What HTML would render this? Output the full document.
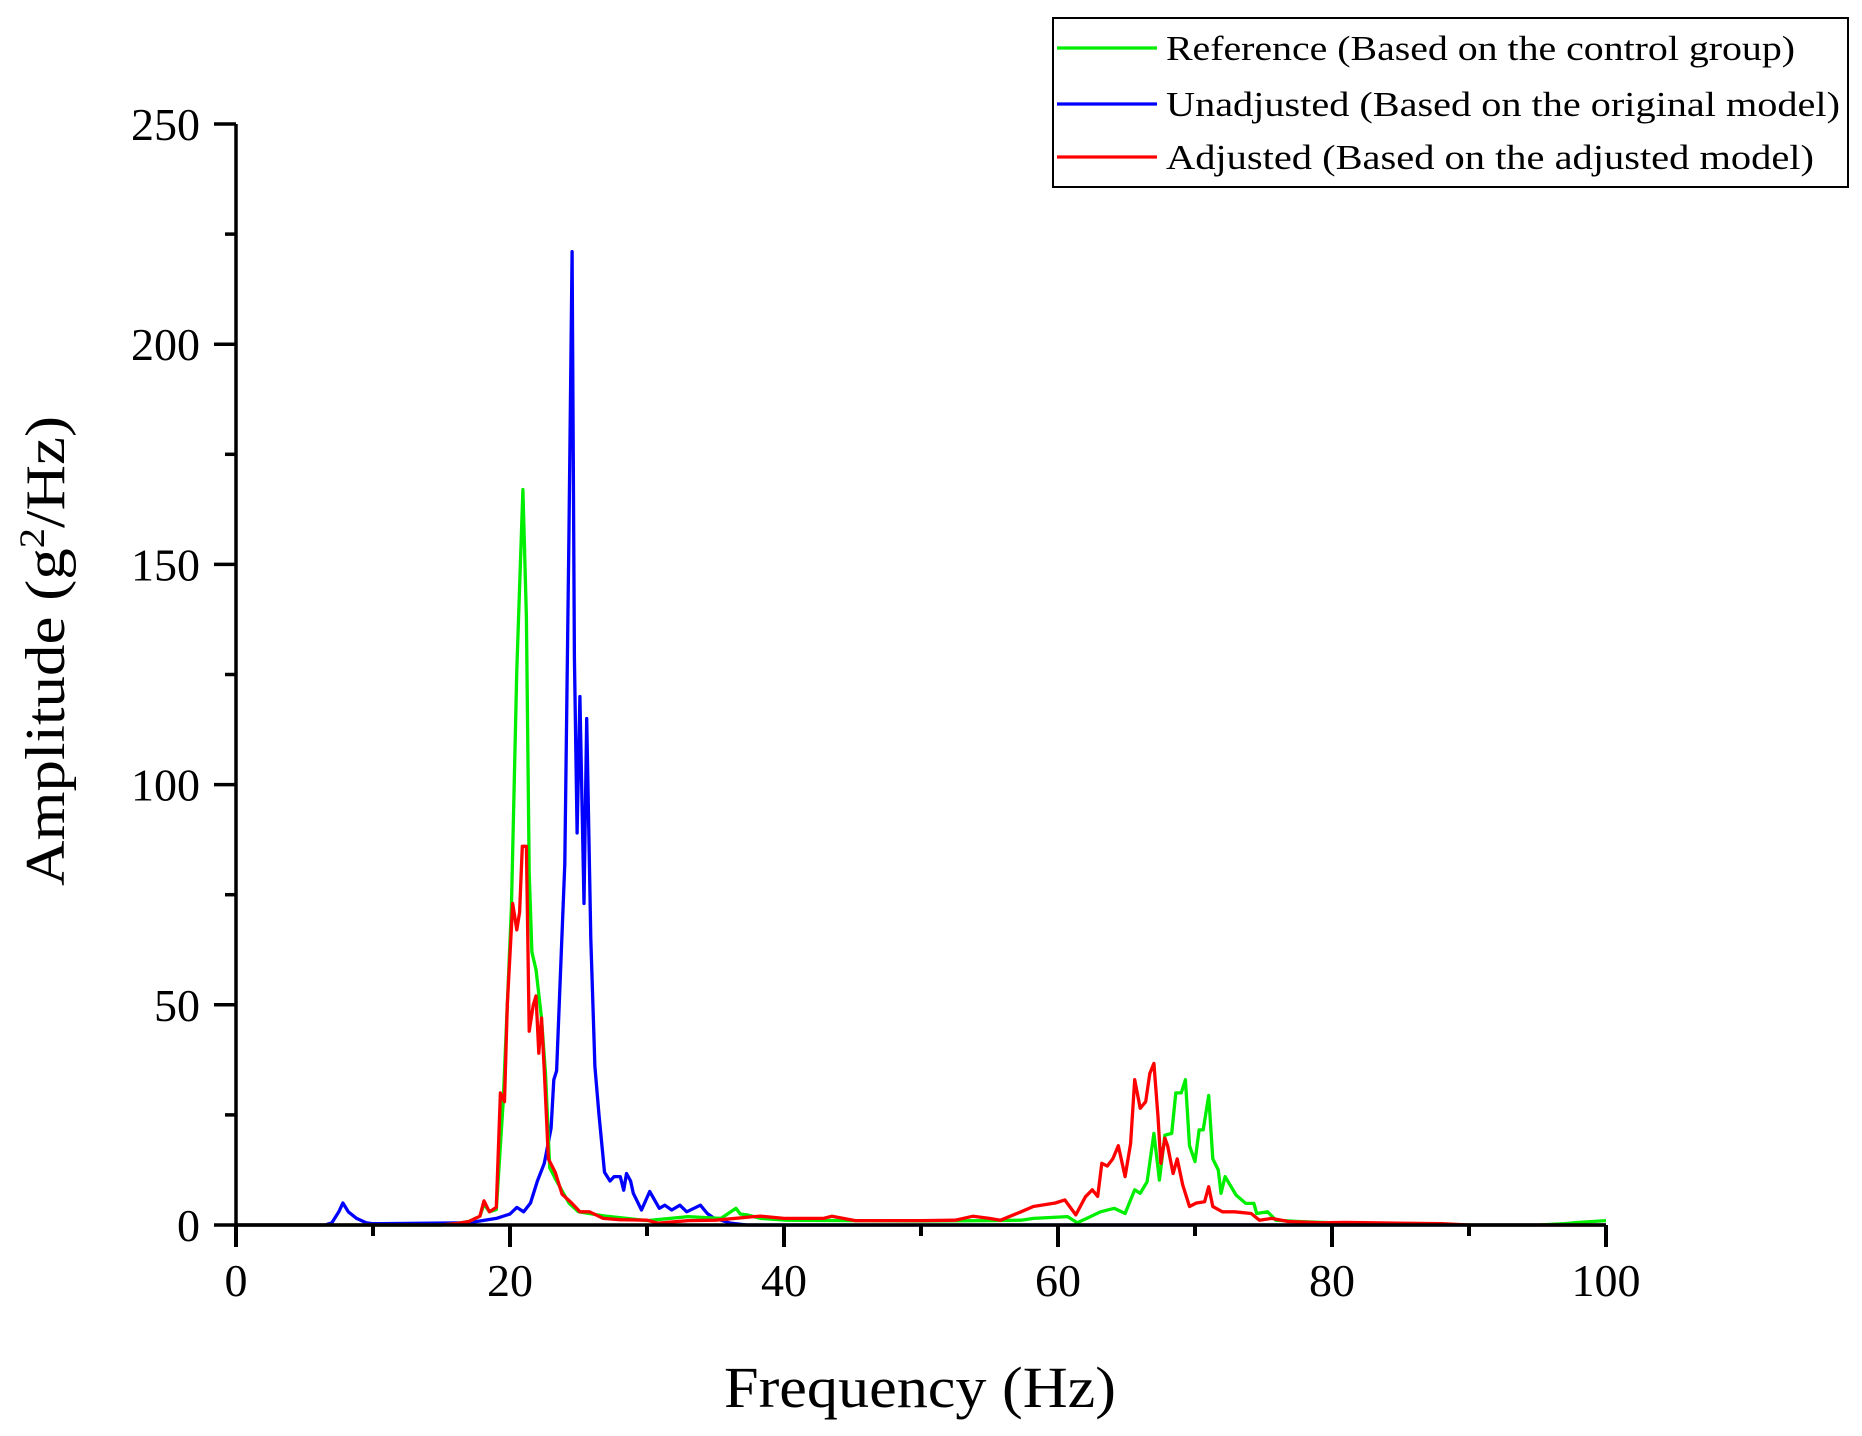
<!DOCTYPE html>
<html><head><meta charset="utf-8"><style>
html,body{margin:0;padding:0;background:#fff;}
svg{display:block;font-family:"Liberation Serif",serif;}
</style></head><body>
<svg id="chart" width="1862" height="1436" viewBox="0 0 1862 1436" xmlns="http://www.w3.org/2000/svg"></svg>
<script>
const xTicks = [0,20,40,60,80,100];
const xMinor = [10,30,50,70,90];
const yTicks = [0,50,100,150,200,250];
const yMinor = [25,75,125,175,225];
const seriesNames = ["Reference (Based on the control group)","Unadjusted (Based on the original model)","Adjusted (Based on the adjusted model)"];
const seriesColors = ["#00ee00","#0000ff","#ff0000"];
const greenHz = [0,15,16,17,17.8,18.1,18.5,19,19.5,20.1,20.5,20.94,21.2,21.4,21.6,21.9,22.3,22.6,22.9,23.4,24.3,25,27,30,33,35.4,36.5,36.8,37.3,38.3,40.2,45,50,55,57.3,58.2,60.7,61.4,62.1,63.1,64.1,64.9,65.6,66,66.5,67,67.4,67.8,68.3,68.6,69,69.3,69.6,70,70.3,70.6,71,71.3,71.7,71.9,72.2,73,73.7,74.3,74.5,75.3,75.9,77.6,80,85,90,95,97,98,100];
const greenVal = [0,0,0.3,0.8,2,4.8,3,3.5,28,72,126,167,138,80,62,58,47,34,13,10,5,3,2,1,1.9,1.5,3.8,2.5,2.3,1.5,1.1,1,0.9,1,1.1,1.5,1.9,0.5,1.5,3,3.8,2.6,8,7.2,9.8,20.8,10.2,20.4,20.8,30,30,33,18,14.4,21.6,21.6,29.4,15,12.5,7.2,11,6.8,4.9,4.9,2.6,3,1.1,0.8,0.5,0.3,0,0,0.3,0.6,1];
const blueHz = [0,6.5,7,7.5,7.8,8.2,8.8,9.5,10,17,19,20,20.5,21,21.5,22,22.5,23,23.2,23.4,24,24.3,24.53,24.7,24.9,25.1,25.4,25.6,25.9,26.2,26.5,26.9,27.3,27.6,28.05,28.3,28.5,28.8,29,29.6,30.2,30.9,31.3,31.8,32.4,32.9,33.9,34.4,34.9,35.4,36.1,37.3,100];
const blueVal = [0,0,0.5,3,5,3,1.5,0.5,0.3,0.5,1.5,2.5,4,3,5,10,14,22,33,35,82,156,221,129,89,120,73,115,65,36,25,12,10,11,11,7.9,11.7,10,7.2,3.4,7.6,3.8,4.5,3.4,4.5,3,4.5,2.6,1.5,1.1,0.4,0,0];
const redHz = [0,15,16,17,17.8,18.1,18.5,19,19.3,19.6,19.8,20.2,20.5,20.7,20.9,21.2,21.4,21.7,21.9,22.1,22.3,22.5,22.8,23.3,23.8,24.5,25.1,25.8,26.8,28,30,30.8,33,35,37.8,38.3,40,42.9,43.5,45.2,50,52.5,53.8,55,55.8,57.3,58.2,59.8,60.5,61.3,62,62.5,62.9,63.2,63.6,64,64.4,64.9,65.3,65.6,66,66.4,66.7,67,67.3,67.5,67.8,68,68.4,68.7,69.1,69.6,70.1,70.7,71,71.3,72,72.9,74.1,74.7,75.6,76.8,79.2,81,88,90,100];
const redVal = [0,0,0.3,0.8,2,5.5,3,4,30,28,50,73,67,71,86,86,44,50,52,39,47,35,15,12,7,5,3,3,1.5,1.2,1.1,0.4,1,1.1,1.9,2,1.5,1.5,2,1,1,1.1,2,1.5,1.1,3,4.2,5,5.7,2.3,6.4,8,6.5,14,13.4,15,18,11,18.5,33,26.5,28,34.4,36.7,24.6,14,19.7,18,11.7,15,9.1,4.2,5,5.3,8.7,4.2,3,3,2.6,1.1,1.5,0.8,0.5,0.6,0.3,0,0];

const X0=236, X1=1606, Y0=1225, Y1=124;
const sx = v => X0 + (v/100)*(X1-X0);
const sy = v => Y0 - (v/250)*(Y0-Y1);
const svg = document.getElementById('chart');
const NS='http://www.w3.org/2000/svg';
function mk(tag, attrs){const e=document.createElementNS(NS,tag);for(const k in attrs)e.setAttribute(k,attrs[k]);svg.appendChild(e);return e;}

const order=[[blueHz,blueVal,1],[greenHz,greenVal,0],[redHz,redVal,2]];
order.forEach(([hz,val,i])=>{
  const d = hz.map((h,j)=>(j?'L':'M')+sx(h).toFixed(1)+','+sy(val[j]).toFixed(1)).join(' ');
  const p = mk('path',{d:d,fill:'none',stroke:seriesColors[i],'stroke-width':3.3,'stroke-linejoin':'round'});
  
  
});

const ax = mk('path',{d:`M${X0},${Y1} L${X0},${Y0} L${X1},${Y0}`,fill:'none',stroke:'#000','stroke-width':3.5});


xTicks.forEach(t=>{
  const l=mk('line',{x1:sx(t),x2:sx(t),y1:Y0,y2:Y0+22,stroke:'#000','stroke-width':4});
  
  
  const tx=mk('text',{x:sx(t),y:1296,'font-size':46,'text-anchor':'middle',fill:'#000'});
  tx.textContent=t;
  
  
});
xMinor.forEach(t=>{
  const l=mk('line',{x1:sx(t),x2:sx(t),y1:Y0,y2:Y0+11,stroke:'#000','stroke-width':4});
  
  
});
yTicks.forEach(t=>{
  const l=mk('line',{x1:X0-22,x2:X0,y1:sy(t),y2:sy(t),stroke:'#000','stroke-width':3.5});
  
  
  const tx=mk('text',{x:200,y:sy(t)+16,'font-size':46,'text-anchor':'end',fill:'#000'});
  tx.textContent=t;
  
  
});
yMinor.forEach(t=>{
  const l=mk('line',{x1:X0-11,x2:X0,y1:sy(t),y2:sy(t),stroke:'#000','stroke-width':3.5});
  
  
});

const xt=mk('text',{x:920,y:1407,'font-size':58,'text-anchor':'middle',fill:'#000',textLength:392,lengthAdjust:'spacingAndGlyphs'});
xt.textContent='Frequency (Hz)';


const yt=mk('text',{x:0,y:0,'font-size':56,'text-anchor':'middle',fill:'#000',transform:'translate(64,651) rotate(-90)',textLength:470,lengthAdjust:'spacingAndGlyphs'});
yt.innerHTML='Amplitude (g<tspan dy="-20" font-size="36">2</tspan><tspan dy="20">/Hz)</tspan>';



const lb=mk('rect',{x:1053,y:18,width:795,height:169,fill:'#fff',stroke:'#000','stroke-width':2});


const legY=[48,104,157], legW=[629,674,648];
seriesNames.forEach((n,i)=>{
  const l=mk('line',{x1:1057,x2:1157,y1:legY[i],y2:legY[i],stroke:seriesColors[i],'stroke-width':3.3});
  
  
  const t=mk('text',{x:1166,y:legY[i]+12,'font-size':35,fill:'#000',textLength:legW[i],lengthAdjust:'spacingAndGlyphs'});
  t.textContent=n;
  
  
});
</script>
</body></html>
